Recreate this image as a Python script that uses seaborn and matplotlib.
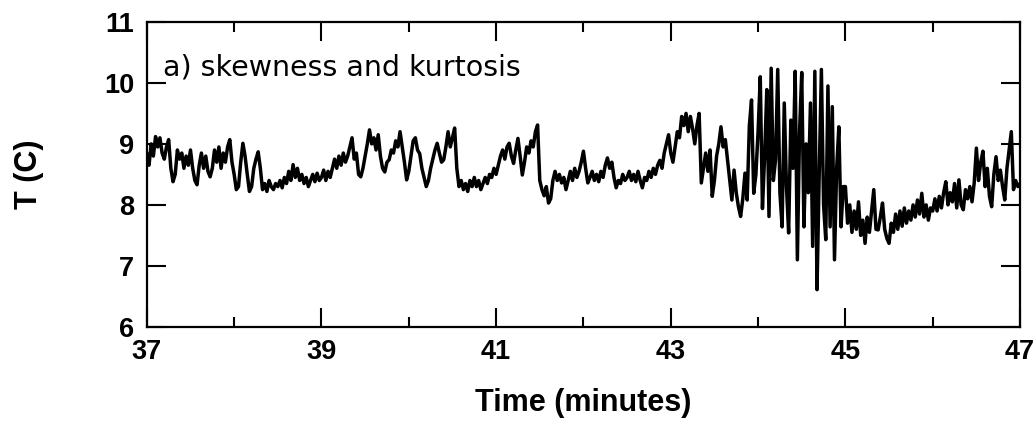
import numpy as np
import pandas as pd
import matplotlib
matplotlib.use("Agg")
import matplotlib.pyplot as plt
from matplotlib.ticker import MultipleLocator
import seaborn as sns

# Temperature record, sampled every 0.025 min from 37 to 47 min (401 samples)
temp_c = [
    # 37.0 - 37.475
    8.85, 8.65, 9.0, 8.8, 9.12, 8.95, 9.1, 8.85, 8.75, 8.95,
    9.07, 8.6, 8.38, 8.5, 8.9, 8.75, 8.85, 8.6, 8.8, 8.65,
    # 37.5 - 37.975
    8.9, 8.6, 8.4, 8.33, 8.65, 8.85, 8.6, 8.8, 8.55, 8.46,
    8.6, 8.9, 8.7, 8.95, 8.6, 8.85, 8.7, 8.95, 9.07, 8.7,
    # 38.0 - 38.475
    8.5, 8.25, 8.3, 8.7, 9.01, 8.8, 8.5, 8.22, 8.3, 8.6,
    8.75, 8.87, 8.6, 8.25, 8.35, 8.22, 8.4, 8.3, 8.25, 8.35,
    # 38.5 - 38.975
    8.3, 8.4, 8.28, 8.45, 8.35, 8.55, 8.4, 8.66, 8.45, 8.6,
    8.4, 8.5, 8.35, 8.45, 8.3, 8.4, 8.5, 8.38, 8.52, 8.4,
    # 39.0 - 39.475
    8.45, 8.57, 8.4, 8.55, 8.45, 8.6, 8.75, 8.6, 8.8, 8.65,
    8.85, 8.7, 8.8, 8.95, 9.1, 8.75, 8.85, 8.5, 8.46, 8.6,
    # 39.5 - 39.975
    8.8, 9.0, 9.23, 9.0, 9.1, 8.9, 9.15, 8.8, 8.6, 8.54,
    8.7, 8.74, 8.9, 8.85, 9.05, 8.95, 9.2, 8.95, 8.7, 8.41,
    # 40.0 - 40.475
    8.55, 8.8, 9.05, 9.1, 8.9, 8.84, 8.6, 8.45, 8.3, 8.4,
    8.6, 8.75, 8.9, 9.01, 8.85, 8.7, 8.74, 8.95, 9.2, 8.95,
    # 40.5 - 40.975
    9.1, 9.26, 8.6, 8.3, 8.4, 8.25, 8.35, 8.22, 8.4, 8.3,
    8.45, 8.3, 8.4, 8.25, 8.35, 8.45, 8.35, 8.5, 8.45, 8.6,
    # 41.0 - 41.475
    8.5, 8.65, 8.8, 8.9, 8.75, 8.95, 9.01, 8.8, 8.68, 8.9,
    9.09, 8.8, 8.49, 8.7, 8.95, 8.85, 9.05, 8.95, 9.2, 9.31,
    # 41.5 - 41.975
    8.4, 8.25, 8.15, 8.3, 8.03, 8.1, 8.4, 8.55, 8.4, 8.5,
    8.36, 8.45, 8.25, 8.4, 8.55, 8.4, 8.6, 8.45, 8.55, 8.7,
    # 42.0 - 42.475
    8.88, 8.6, 8.36, 8.45, 8.55, 8.4, 8.5, 8.38, 8.55, 8.45,
    8.65, 8.77, 8.6, 8.7, 8.45, 8.28, 8.4, 8.35, 8.5, 8.4,
    # 42.5 - 42.975
    8.45, 8.55, 8.4, 8.5, 8.38, 8.55, 8.4, 8.28, 8.45, 8.4,
    8.55, 8.45, 8.6, 8.5, 8.65, 8.73, 8.6, 8.85, 9.0, 9.15,
    # 43.0 - 43.475
    8.85, 8.7, 8.95, 9.2, 9.1, 9.45, 9.3, 9.5, 9.2, 9.45,
    9.25, 9.0, 9.3, 9.5, 8.36, 8.6, 8.85, 8.55, 8.9, 8.14,
    # 43.5 - 43.975
    8.4, 8.8, 9.0, 9.28, 8.95, 9.07, 8.74, 8.4, 8.08, 8.57,
    8.2, 7.97, 7.81, 8.1, 8.52, 8.08, 9.3, 9.72, 8.19, 8.5,
    # 44.0 - 44.475
    9.2, 10.1, 7.94, 8.8, 9.89, 7.81, 10.24, 8.4, 8.74, 10.22,
    8.2, 7.64, 9.67, 8.3, 7.54, 9.39, 8.6, 10.19, 7.1, 9.2,
    # 44.5 - 44.975
    10.17, 7.64, 9.0, 8.2, 9.67, 7.32, 10.19, 6.61, 8.5, 10.22,
    8.0, 7.43, 9.95, 7.64, 9.61, 7.1, 8.6, 9.28, 7.64, 8.3,
    # 45.0 - 45.475
    8.3, 7.7, 8.0, 7.55, 7.9, 7.6, 8.05, 7.5, 7.75, 7.37,
    7.8, 7.55, 7.9, 8.25, 7.6, 7.59, 7.8, 8.03, 7.6, 7.45,
    # 45.5 - 45.975
    7.37, 7.7, 7.55, 7.85, 7.6, 7.9, 7.65, 7.95, 7.7, 7.9,
    7.75, 8.0, 7.8, 8.08, 7.85, 8.19, 7.8, 8.0, 7.75, 7.95,
    # 46.0 - 46.475
    7.9, 8.1, 7.9, 8.14, 7.95, 8.2, 8.38, 8.0, 8.2, 8.05,
    8.35, 7.95, 8.41, 8.0, 7.92, 8.25, 8.1, 8.3, 8.05, 8.36,
    # 46.5 - 47.0
    8.93, 8.4, 8.7, 8.88, 8.3, 8.6, 8.14, 7.97, 8.5, 8.79,
    8.4, 8.57, 8.3, 8.08, 8.6, 8.9, 9.2, 8.25, 8.4, 8.3, 8.35,
]

t_start, t_end = 37, 47
minutes = np.linspace(t_start, t_end, len(temp_c))

x_major = [37, 39, 41, 43, 45, 47]
y_major = [6, 7, 8, 9, 10, 11]
panel_label = "a) skewness and kurtosis"

df = pd.DataFrame({"Time (minutes)": minutes, "T (C)": temp_c})

sns.set_theme(style="ticks")
plt.rcParams["font.family"] = ["Liberation Sans", "DejaVu Sans"]
for key in ["text.color", "axes.labelcolor", "xtick.color", "ytick.color",
            "axes.edgecolor"]:
    plt.rcParams[key] = "black"

fig = plt.figure(figsize=(10.34, 4.29), dpi=100)
ax = fig.add_axes([0.142, 0.238, 0.8445, 0.711])

sns.lineplot(data=df, x="Time (minutes)", y="T (C)", ax=ax,
             color="black", linewidth=2.5, estimator=None, sort=False)

ax.set_xlim(t_start, t_end)
ax.set_ylim(6, 11)
ax.set_xticks(x_major)
ax.xaxis.set_minor_locator(MultipleLocator(1))
ax.set_yticks(y_major)

for side in ["left", "right", "top", "bottom"]:
    ax.spines[side].set_visible(True)
    ax.spines[side].set_linewidth(1.6)
    ax.spines[side].set_color("black")

ax.tick_params(axis="both", which="major", direction="in", length=13.5,
               width=1.5, color="black", top=True, right=True,
               labelsize=19.5, pad=9)
ax.tick_params(axis="x", which="minor", direction="in", length=7,
               width=1.5, color="black", top=True, bottom=True)
ax.tick_params(axis="y", which="minor", left=False, right=False)
for lab in ax.get_xticklabels() + ax.get_yticklabels():
    lab.set_fontweight("bold")

ax.set_xlabel("Time (minutes)", fontsize=22, fontweight="bold", labelpad=16)
ax.set_ylabel("T (C)", fontsize=22, fontweight="bold")
ax.yaxis.set_label_coords(-0.118, 0.5)

ax.text(0.018, 0.895, panel_label, transform=ax.transAxes,
        fontsize=20.5, va="top", ha="left", family=["DejaVu Sans"])

fig.savefig("out.png", dpi=100, facecolor="white")
